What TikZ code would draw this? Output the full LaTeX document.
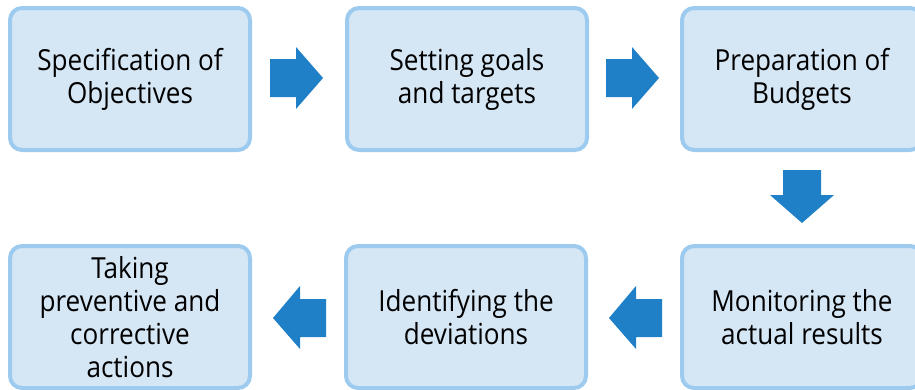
\documentclass[tikz,border=0pt]{standalone}
\usepackage{fontspec}
\setmainfont{Open Sans}[FakeStretch=0.9]
\definecolor{boxfill}{HTML}{D5E6F5}
\definecolor{boxline}{HTML}{9CCBEF}
\definecolor{arrowblue}{HTML}{1F80C8}
\tikzset{
  stagebox/.style={draw=boxline, fill=boxfill, line width=4pt, rounded corners=12pt,
    minimum width=240pt, minimum height=142pt, align=center, inner sep=0pt,
    font=\fontsize{29}{33}\selectfont, text=black},
  blockarrow/.style={fill=arrowblue}
}
\begin{document}
\begin{tikzpicture}[x=1pt, y=-1pt]
  \useasboundingbox (0,0) rectangle (915,389);
  \clip (0,0) rectangle (915,389);
  % top row
  \node[stagebox] (spec) at (130,79) {Specification of\\Objectives};
  \node[stagebox] (goals) at (467,79) {Setting goals\\and targets};
  \node[stagebox] (budg) at (802,79) {Preparation of\\Budgets};
  % bottom row
  \node[stagebox] (mon) at (802,317) {Monitoring the\\actual results};
  \node[stagebox] (dev) at (466,317) {Identifying the\\deviations};
  \node[stagebox] (act) at (130,317) {Taking\\preventive and\\corrective\\actions};
  % block arrows between stages
  \fill[blockarrow] (270,59) -- (296,59) -- (296,47) -- (323,78) -- (296,109) -- (296,97) -- (270,97) -- cycle;
  \fill[blockarrow] (606,59) -- (632,59) -- (632,47) -- (659,78) -- (632,109) -- (632,97) -- (606,97) -- cycle;
  \fill[blockarrow] (783,170) -- (821,170) -- (821,195) -- (834,195) -- (802,223) -- (770,195) -- (783,195) -- cycle;
  \fill[blockarrow] (662,299) -- (636,299) -- (636,286) -- (609,318) -- (636,349) -- (636,337) -- (662,337) -- cycle;
  \fill[blockarrow] (326,299) -- (300,299) -- (300,286) -- (273,318) -- (300,349) -- (300,337) -- (326,337) -- cycle;
\end{tikzpicture}
\end{document}
